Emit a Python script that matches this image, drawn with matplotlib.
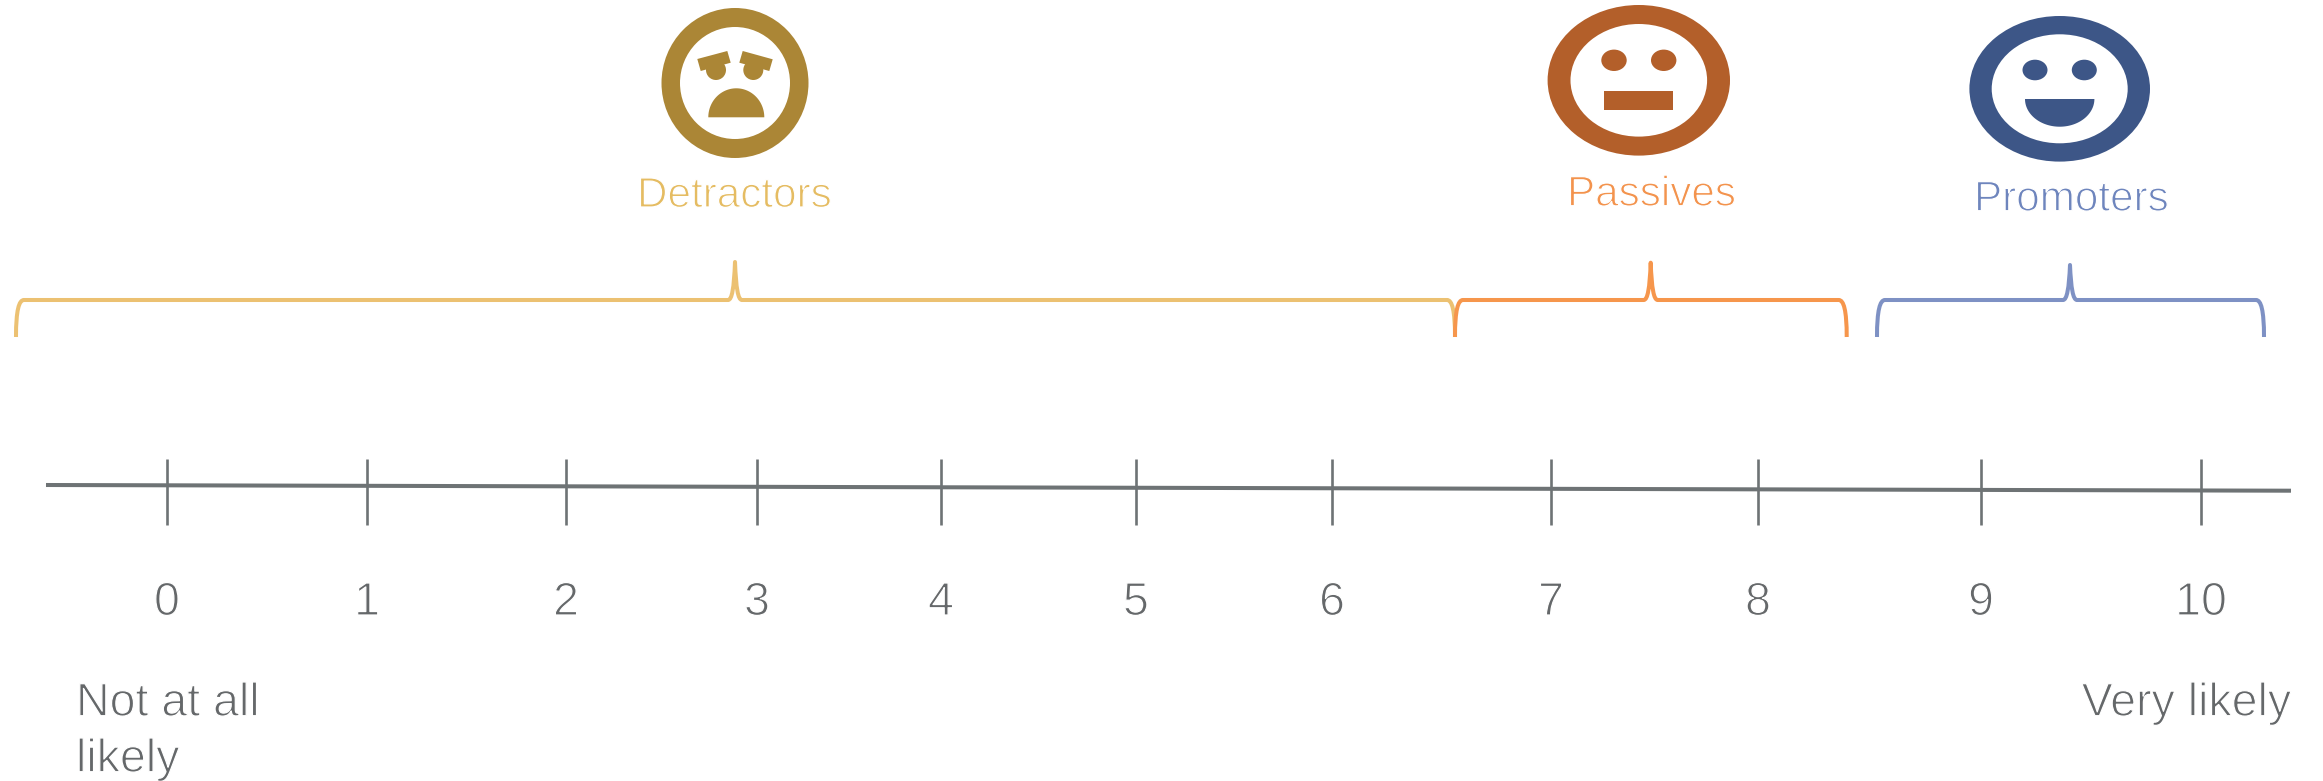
# -*- coding: utf-8 -*-
import numpy as np
import matplotlib.pyplot as plt
import matplotlib.patheffects as pe
from matplotlib.patches import Ellipse, Polygon, PathPatch, Rectangle
from matplotlib.path import Path

plt.rcParams['font.family'] = ['Liberation Sans', 'DejaVu Sans']

scores = ['0', '1', '2', '3', '4', '5', '6', '7', '8', '9', '10']
score_x = [167, 367, 566, 757, 941, 1136, 1332, 1551, 1758, 1981, 2201]

group_names = ['Detractors', 'Passives', 'Promoters']
group_label_x = [637, 1567, 1974]
group_label_y = [207, 205.7, 210.7]

# left end, peak and right end of each brace
brace_left = [16, 1455, 1877]
brace_peak = [735, 1650.7, 2070]
brace_right = [1455, 1846.7, 2264]
brace_top = [262, 262.7, 265]

face_colors = ['#AB8636', '#B35F2A', '#3D5687']
label_colors = ['#E5BC62', '#F3934D', '#6E85BD']
brace_colors = ['#ECC172', '#F6964C', '#7E91C4']
gray_line = '#6E7375'
gray_text = '#65686A'

# white edge over the glyph fill, gives a light weight from a regular face
thin = [pe.Stroke(linewidth=0.9, foreground='white')]

W, H = 2323, 781
fig = plt.figure(figsize=(W / 100, H / 100), dpi=100)
ax = fig.add_axes([0, 0, 1, 1])
ax.set_xlim(0, W)
ax.set_ylim(H, 0)
ax.axis('off')


def half_ellipse(cx, cy, rx, ry, color):
    t = np.linspace(0, np.pi, 80)
    pts = np.column_stack([cx + rx * np.cos(t), cy - ry * np.sin(t)])
    return Polygon(pts, closed=True, facecolor=color, edgecolor='none')


def ring(cx, cy, rx, ry, irx, iry, color):
    ax.add_patch(Ellipse((cx, cy), 2 * rx, 2 * ry, facecolor=color, edgecolor='none'))
    ax.add_patch(Ellipse((cx, cy), 2 * irx, 2 * iry, facecolor='white', edgecolor='none'))


def brace(xl, xp, xr, ytop, color, yh=300, ybot=337):
    verts = [(xl, ybot), (xl, yh + 10), (xl + 3, yh), (xl + 8, yh),
             (xp - 7, yh), (xp - 3, yh), (xp - 1, yh - 12), (xp, ytop),
             (xp + 1, yh - 12), (xp + 3, yh), (xp + 7, yh),
             (xr - 8, yh), (xr - 3, yh), (xr, yh + 10), (xr, ybot)]
    codes = [Path.MOVETO, Path.CURVE4, Path.CURVE4, Path.CURVE4,
             Path.LINETO, Path.CURVE4, Path.CURVE4, Path.CURVE4,
             Path.CURVE4, Path.CURVE4, Path.CURVE4,
             Path.LINETO, Path.CURVE4, Path.CURVE4, Path.CURVE4]
    ax.add_patch(PathPatch(Path(verts, codes), facecolor='none', edgecolor=color,
                           lw=2.9, capstyle='butt', joinstyle='round'))


# sad face
c = face_colors[0]
ring(735, 83, 73.5, 75, 55, 56, c)
ax.add_patch(Ellipse((716, 70), 20, 20, facecolor=c, edgecolor='none'))
ax.add_patch(Ellipse((753.3, 70), 20, 20, facecolor=c, edgecolor='none'))
ax.add_patch(Polygon([(697.3, 59), (727.3, 51), (730.7, 62.7), (700.7, 71)], facecolor=c, edgecolor='none'))
ax.add_patch(Polygon([(742.7, 51), (772.7, 59.3), (769.3, 71), (739.3, 62.7)], facecolor=c, edgecolor='none'))
ax.add_patch(half_ellipse(736.3, 117.3, 28, 29, c))

# neutral face
c = face_colors[1]
ring(1638.8, 80.3, 91.2, 75.3, 68.3, 56.3, c)
ax.add_patch(Ellipse((1614, 60.3), 25.4, 21.4, facecolor=c, edgecolor='none'))
ax.add_patch(Ellipse((1663.7, 60.3), 25.4, 21.4, facecolor=c, edgecolor='none'))
ax.add_patch(Rectangle((1604, 91), 69.3, 19, facecolor=c, edgecolor='none'))

# happy face
c = face_colors[2]
ring(2059.7, 88.8, 90.3, 72.8, 68, 54.5, c)
ax.add_patch(Ellipse((2035, 70), 25, 20.6, facecolor=c, edgecolor='none'))
ax.add_patch(Ellipse((2084.3, 70), 25, 20.6, facecolor=c, edgecolor='none'))
t = np.linspace(0, np.pi, 80)
ax.add_patch(Polygon(np.column_stack([2059.7 + 34.7 * np.cos(t), 99 + 27.7 * np.sin(t)]),
                     facecolor=c, edgecolor='none'))

for i in range(3):
    ax.text(group_label_x[i], group_label_y[i], group_names[i], color=label_colors[i],
            fontsize=30.4, ha='left', va='baseline', path_effects=thin)
    brace(brace_left[i], brace_peak[i], brace_right[i], brace_top[i], brace_colors[i])

# scale line, drifts down slightly to the right
ax.plot([46, 2291], [485, 490.7], color=gray_line, lw=2.9, solid_capstyle='butt')
for x, s in zip(score_x, scores):
    ax.plot([x, x], [459, 525], color=gray_line, lw=1.9, solid_capstyle='butt')
    ax.text(x, 615, s, color=gray_text, fontsize=33.5, ha='center', va='baseline', path_effects=thin)

ax.text(76, 715.7, 'Not at all', color=gray_text, fontsize=33.5, va='baseline', path_effects=thin)
ax.text(76, 771.7, 'likely', color=gray_text, fontsize=33.5, va='baseline', path_effects=thin)
ax.text(2081.7, 715.7, 'Very likely', color=gray_text, fontsize=33.5, va='baseline', path_effects=thin)

fig.savefig('out.png', dpi=100)
